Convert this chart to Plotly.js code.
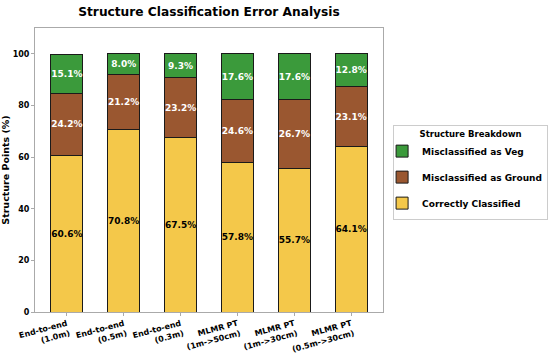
<!DOCTYPE html>
<html>
<head>
<meta charset="utf-8">
<script src="https://cdn.plot.ly/plotly-3.0.1.min.js"></script>
<style>html,body{margin:0;padding:0;background:#fff;}#chart{width:550px;height:353px;}</style>
</head>
<body>
<div id="chart"></div>
<script>
const categories = ["End-to-end<br>(1.0m)", "End-to-end<br>(0.5m)", "End-to-end<br>(0.3m)", "MLMR PT<br>(1m->50cm)", "MLMR PT<br>(1m->30cm)", "MLMR PT<br>(0.5m->30cm)"];
const correct = [60.6, 70.8, 67.5, 57.8, 55.7, 64.1];
const misGround = [24.2, 21.2, 23.2, 24.6, 26.7, 23.1];
const misVeg = [15.1, 8.0, 9.3, 17.6, 17.6, 12.8];
const seriesNames = ["Correctly Classified", "Misclassified as Ground", "Misclassified as Veg"];
const colors = ["#f4c84a", "#9a5730", "#3b9a3b"];
const textColors = ["#000000", "#ffffff", "#ffffff"];
const yTicks = [0, 20, 40, 60, 80, 100];

const F = "DejaVu Sans, sans-serif";
const idx = categories.map((_, i) => i);
const series = [correct, misGround, misVeg];
const traces = series.map((vals, k) => ({
  type: "bar",
  x: idx,
  y: vals,
  name: seriesNames[k],
  legendgroup: "g" + k,
  legendrank: 3 - k,
  width: 0.56,
  marker: {color: colors[k], line: {color: "#1a1a1a", width: 1}},
  text: vals.map(v => v.toFixed(1) + "%"),
  textposition: "inside",
  insidetextanchor: "middle",
  textangle: 0,
  textfont: {family: F, size: 9, color: textColors[k], weight: "bold"},
  hoverinfo: "skip"
}));

const layout = {
  width: 550, height: 353,
  margin: {l: 35, r: 167, t: 28, b: 41, autoexpand: false},
  barmode: "stack",
  paper_bgcolor: "#fff", plot_bgcolor: "#fff",
  uniformtext: {minsize: 9, mode: "show"},
  title: {text: "<b>Structure Classification Error Analysis</b>", font: {family: F, size: 12.2, color: "#000"}, x: 0.38, xanchor: "center", y: 0.968, yanchor: "middle"},
  xaxis: {
    range: [-0.56, 5.56], tickvals: idx, ticktext: categories, tickangle: -15,
    tickfont: {family: F, size: 8, color: "#000", weight: "bold"},
    showline: true, linecolor: "#aaaaaa", linewidth: 1, mirror: true,
    ticks: "outside", ticklen: 3, tickcolor: "#aaaaaa", showgrid: false, zeroline: false
  },
  yaxis: {
    range: [0, 110], tickvals: yTicks,
    tickfont: {family: F, size: 8, color: "#000", weight: "bold"},
    title: {text: "<b>Structure Points (%)</b>", font: {family: F, size: 9.5, color: "#000"}, standoff: 6},
    showline: true, linecolor: "#aaaaaa", linewidth: 1, mirror: true,
    ticks: "outside", ticklen: 3, tickcolor: "#aaaaaa", showgrid: false, zeroline: false
  },
  showlegend: true,
  legend: {
    x: 1.029, xanchor: "left", y: 0.66, yanchor: "top",
    traceorder: "grouped",
    tracegroupgap: 7,
    indentation: -12,
    bordercolor: "#cccccc", borderwidth: 1, bgcolor: "#fff",
    font: {family: F, size: 9, color: "#000", weight: "bold"},
    title: {text: "<b>Structure Breakdown</b>", side: "top center", font: {family: F, size: 8.5, color: "#000"}},
    itemwidth: 30
  },
  bargap: 0
};
Plotly.newPlot("chart", traces, layout, {displayModeBar: false, staticPlot: true});
</script>
</body>
</html>
